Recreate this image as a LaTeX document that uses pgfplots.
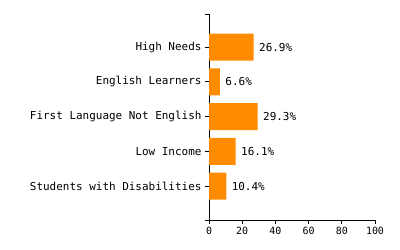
\documentclass[border=0pt]{standalone}
\usepackage{pgfplots}
\pgfplotsset{compat=1.18}
\usepackage{fontspec}
\setmainfont{DejaVu Sans Mono}
\setmonofont{DejaVu Sans Mono}
\definecolor{barorange}{RGB}{255,140,0}
\pgfkeys{/pgf/number format/assume math mode=true}
\begin{document}
\begin{tikzpicture}
\path[use as bounding box] (0,0) rectangle (400bp,250bp);
\begin{axis}[
  at={(209bp,30bp)}, anchor=south west,
  scale only axis, width=166bp, height=206bp,
  xmin=0, xmax=100, ymin=-0.97, ymax=4.95,
  axis lines*=left,
  axis line style={-, black, line width=0.8pt},
  xtick={0,20,...,100},
  ytick={0,1,2,3,4},
  yticklabels={Students with Disabilities, Low Income, First Language Not English, English Learners, High Needs},
  extra y ticks={-0.97,4.95},
  extra y tick labels={},
  tick align=outside,
  major tick length=4bp,
  tick style={black, line width=0.8pt},
  yticklabel style={font=\fontsize{11}{13}\selectfont, black, xshift=0bp},
  xticklabel style={font=\fontsize{10}{12}\selectfont, black},
  xbar, bar width=27bp,
  nodes near coords={\pgfmathprintnumber[fixed,precision=1,fixed zerofill]{\pgfplotspointmeta}\%},
  nodes near coords align=horizontal,
  every node near coord/.append style={font=\fontsize{11}{13}\selectfont, black, xshift=2bp},
]
\addplot[fill=barorange, draw=none] coordinates {
  (10.4,0) (16.1,1) (29.3,2) (6.6,3) (26.9,4)
};
\end{axis}
\end{tikzpicture}
\end{document}
